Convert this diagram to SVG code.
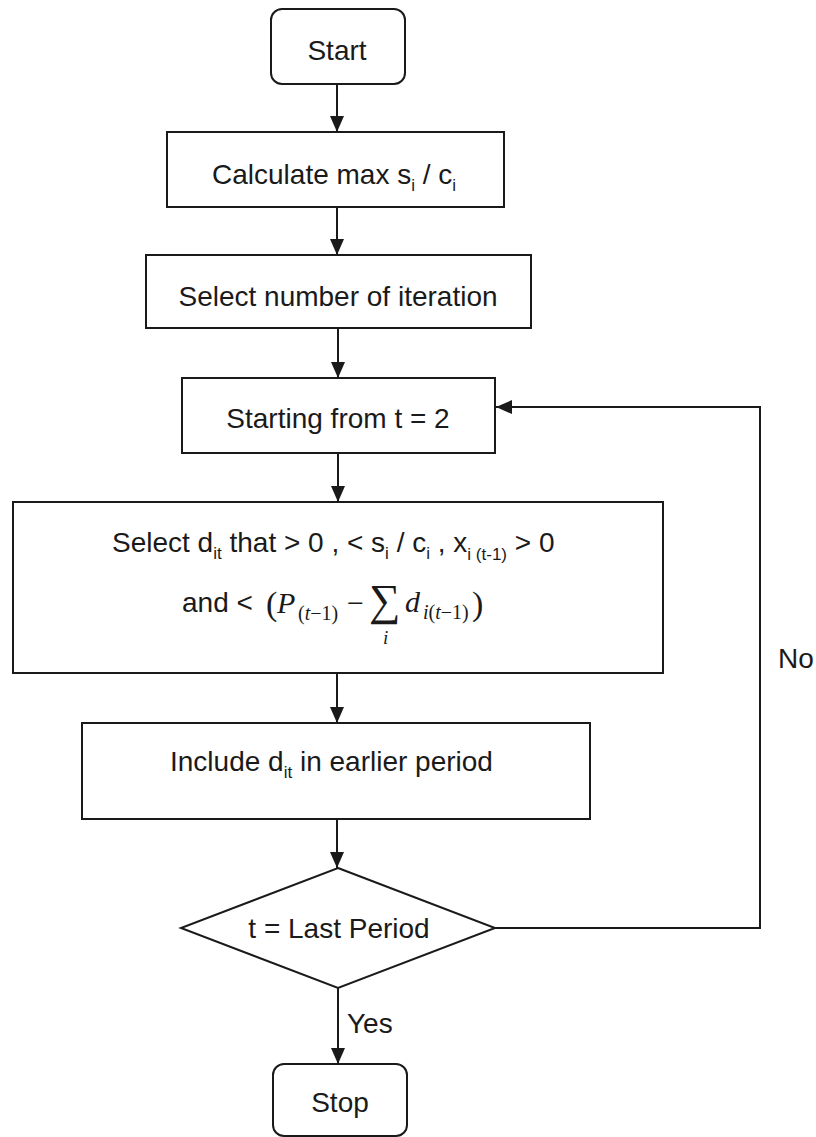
<svg xmlns="http://www.w3.org/2000/svg" width="816" height="1137" viewBox="0 0 816 1137">
<style>
.box{fill:#fff;stroke:#1a1a1a;stroke-width:2}
.ln{fill:none;stroke:#1a1a1a;stroke-width:2}
.t{font-family:"Liberation Sans",Arial,sans-serif;font-size:28px;fill:#1a1a1a}
.s{font-size:17px}
.m{font-family:"Liberation Serif","Times New Roman",serif;fill:#1a1a1a}
.mi{font-family:"Liberation Serif","Times New Roman",serif;font-style:italic;fill:#1a1a1a}
</style>
<defs>
<marker id="ah" markerWidth="16" markerHeight="14" refX="16" refY="7" orient="auto" markerUnits="userSpaceOnUse" viewBox="0 0 16 14">
<path d="M0,0 L16,7 L0,14 Z" fill="#1a1a1a"/>
</marker>
</defs>
<rect width="816" height="1137" fill="#fff"/>
<g id="connectors">
<line class="ln" x1="337" y1="84" x2="337" y2="132" marker-end="url(#ah)"/>
<line class="ln" x1="337" y1="207" x2="337" y2="255" marker-end="url(#ah)"/>
<line class="ln" x1="338" y1="328" x2="338" y2="378" marker-end="url(#ah)"/>
<line class="ln" x1="338" y1="453" x2="338" y2="502" marker-end="url(#ah)"/>
<line class="ln" x1="337" y1="673" x2="337" y2="723" marker-end="url(#ah)"/>
<line class="ln" x1="337" y1="819" x2="337" y2="868" marker-end="url(#ah)"/>
<line class="ln" x1="338" y1="988" x2="338" y2="1064" marker-end="url(#ah)"/>
<polyline class="ln" points="495,928 760,928 760,407 496,407" marker-end="url(#ah)"/>
<text class="t" x="347" y="1033">Yes</text>
<text class="t" x="778" y="668">No</text>
</g>
<g id="start">
<rect class="box" x="271" y="9" width="134" height="75" rx="11"/>
<text class="t" x="337" y="60" text-anchor="middle">Start</text>
</g>
<g id="calc">
<rect class="box" x="167" y="132" width="337" height="75"/>
<text class="t" x="212" y="184">Calculate max s<tspan class="s" dy="7">i</tspan><tspan dy="-7"> / c</tspan><tspan class="s" dy="7">i</tspan></text>
</g>
<g id="select-iter">
<rect class="box" x="146" y="255" width="385" height="73"/>
<text class="t" x="338" y="306" text-anchor="middle">Select number of iteration</text>
</g>
<g id="starting">
<rect class="box" x="182" y="378" width="313" height="75"/>
<text class="t" x="338" y="428" text-anchor="middle">Starting from t = 2</text>
</g>
<g id="select-d">
<rect class="box" x="13" y="502" width="650" height="171"/>
<text class="t" x="112" y="552">Select d<tspan class="s" dy="7">it</tspan><tspan dy="-7"> that &gt; 0 , &lt; s</tspan><tspan class="s" dy="7">i</tspan><tspan dy="-7"> / c</tspan><tspan class="s" dy="7">i</tspan><tspan dy="-7"> , x</tspan><tspan class="s" dy="8">i (t-1)</tspan><tspan dy="-8"> &gt; 0</tspan></text>
<text class="t" x="182" y="612">and &lt;</text>
<text class="m" x="266" y="615" font-size="34">(</text>
<text class="mi" x="277" y="613" font-size="30">P</text>
<text class="m" x="298" y="620" font-size="20">(<tspan font-style="italic">t</tspan>−1)</text>
<text class="m" x="347" y="613" font-size="30">−</text>
<text class="m" x="369" y="615" font-size="44">∑</text>
<text class="mi" x="383" y="644" font-size="19">i</text>
<text class="mi" x="405" y="612" font-size="30">d</text>
<text class="mi" x="423" y="619" font-size="20">i<tspan font-style="normal">(</tspan>t<tspan font-style="normal">−1)</tspan></text>
<text class="m" x="472" y="615" font-size="34">)</text>
</g>
<g id="include">
<rect class="box" x="82" y="723" width="508" height="96"/>
<text class="t" x="170" y="771">Include d<tspan class="s" dy="7">it</tspan><tspan dy="-7"> in earlier period</tspan></text>
</g>
<g id="decision">
<polygon class="box" points="338,868 495,928 338,988 181,928"/>
<text class="t" x="339" y="938" text-anchor="middle">t = Last Period</text>
</g>
<g id="stop">
<rect class="box" x="273" y="1064" width="134" height="72" rx="11"/>
<text class="t" x="340" y="1112" text-anchor="middle">Stop</text>
</g>
</svg>
